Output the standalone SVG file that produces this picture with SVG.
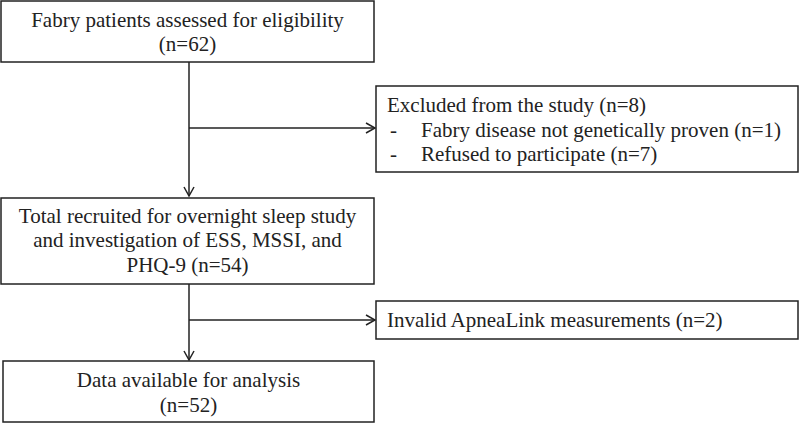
<svg xmlns="http://www.w3.org/2000/svg" width="800" height="424" viewBox="0 0 800 424">
<style>
.box{fill:#fff;stroke:#222;stroke-width:1.5}
.t{font-family:"Liberation Serif","Times New Roman",serif;font-size:21px;fill:#222}
.c{text-anchor:middle}
.ln{fill:none;stroke:#222;stroke-width:1.5}
</style>
<defs>
<marker id="ah" markerWidth="12" markerHeight="12" refX="10" refY="6" orient="auto" markerUnits="userSpaceOnUse">
<polyline points="1,1 10,6 1,11" fill="none" stroke="#222" stroke-width="1.5"/>
</marker>
</defs>
<rect width="800" height="424" fill="#fff"/>
<g id="connectors">
<line class="ln" x1="189" y1="62" x2="189" y2="196" marker-end="url(#ah)"/>
<line class="ln" x1="189" y1="128" x2="375" y2="128" marker-end="url(#ah)"/>
<line class="ln" x1="189" y1="284" x2="189" y2="360" marker-end="url(#ah)"/>
<line class="ln" x1="189" y1="320" x2="375" y2="320" marker-end="url(#ah)"/>
</g>
<g id="n1">
<rect class="box" x="1" y="1" width="373" height="61"/>
<text class="t c" x="187.5" y="27">Fabry patients assessed for eligibility</text>
<text class="t c" x="187.5" y="51">(n=62)</text>
</g>
<g id="n2">
<rect class="box" x="376" y="86" width="422" height="86"/>
<text class="t" x="387" y="112">Excluded from the study (n=8)</text>
<text class="t" x="390" y="137">-</text>
<text class="t" x="421" y="137">Fabry disease not genetically proven (n=1)</text>
<text class="t" x="390" y="161">-</text>
<text class="t" x="421" y="161">Refused to participate (n=7)</text>
</g>
<g id="n3">
<rect class="box" x="1" y="198" width="373" height="86"/>
<text class="t c" x="187.5" y="223">Total recruited for overnight sleep study</text>
<text class="t c" x="187.5" y="247">and investigation of ESS, MSSI, and</text>
<text class="t c" x="187.5" y="272">PHQ-9 (n=54)</text>
</g>
<g id="n4">
<rect class="box" x="376" y="301" width="422" height="38"/>
<text class="t" x="387" y="327">Invalid ApneaLink measurements (n=2)</text>
</g>
<g id="n5">
<rect class="box" x="3" y="361" width="371" height="61"/>
<text class="t c" x="188.5" y="387">Data available for analysis</text>
<text class="t c" x="188.5" y="412">(n=52)</text>
</g>
</svg>
